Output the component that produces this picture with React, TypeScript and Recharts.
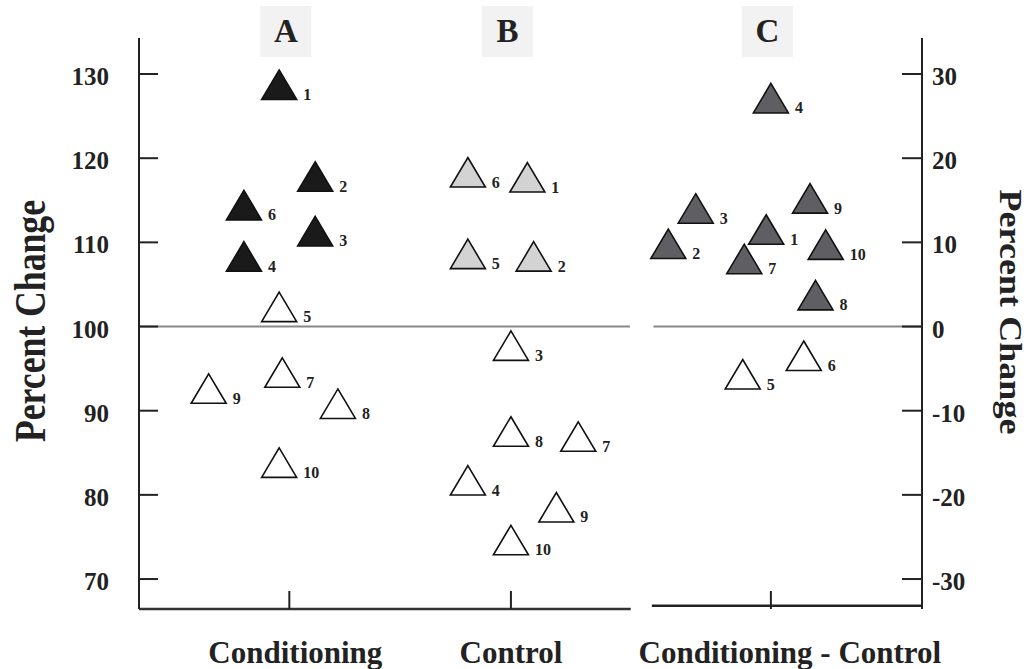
import React from 'react';
import {
  ScatterChart,
  Scatter,
  XAxis,
  YAxis,
  ReferenceLine,
  ReferenceDot,
} from 'recharts';

const panels = ['A', 'B', 'C'];
const categories = ['Conditioning', 'Control', 'Conditioning - Control'];
const categoryX = [19.2, 47.5, 80.7];

const leftTicks = [70, 80, 90, 100, 110, 120, 130];
const rightTicks = [-30, -20, -10, 0, 10, 20, 30];
const leftDomain: [number, number] = [66.44, 134.28];
const rightDomain: [number, number] = [-33.56, 34.28];

const subjects = [1, 2, 3, 4, 5, 6, 7, 8, 9, 10];

// A: conditioning (percent of baseline)
const conditioningX = [17.9, 22.5, 22.5, 13.4, 17.9, 13.4, 18.3, 25.4, 8.9, 17.9];
const conditioningY = [128.7, 117.8, 111.3, 108.3, 102.3, 114.4, 94.5, 90.8, 92.6, 83.8];
const conditioningFilled = [true, true, true, true, false, true, false, false, false, false];

// B: control (percent of baseline)
const controlX = [49.6, 50.4, 47.5, 42.0, 42.0, 42.0, 56.1, 47.5, 53.3, 47.5];
const controlY = [117.7, 108.3, 97.7, 81.7, 108.6, 118.3, 86.9, 87.5, 78.5, 74.6];
const controlFilled = [true, true, false, false, true, true, false, false, false, false];

// C: conditioning - control (percent change)
const diffX = [80.1, 67.6, 71.1, 80.7, 77.1, 84.9, 77.3, 86.4, 85.7, 87.7];
const diffY = [11.5, 9.8, 14.0, 27.1, -5.7, -3.5, 8.0, 3.7, 15.2, 9.7];
const diffFilled = [true, true, true, true, false, false, true, true, true, true];

const FONT = "'Liberation Serif', 'Times New Roman', serif";
const INK = '#222';

const toPoints = (xs: number[], ys: number[], filled: boolean[]) =>
  subjects.map((id, i) => ({ id, x: xs[i], y: ys[i], filled: filled[i] }));

const conditioningData = toPoints(conditioningX, conditioningY, conditioningFilled);
const controlData = toPoints(controlX, controlY, controlFilled);
const diffData = toPoints(diffX, diffY, diffFilled);

const triangle = (fill: string) => (props: any) => {
  const { cx, cy, payload } = props;
  if (cx == null || cy == null) return null;
  return (
    <g>
      <polygon
        points={`${cx},${cy - 15} ${cx + 17.5},${cy + 14.5} ${cx - 17.5},${cy + 14.5}`}
        fill={payload.filled ? fill : '#fff'}
        stroke="#111"
        strokeWidth={1.6}
      />
      <text x={cx + 24} y={cy + 15} fontSize={16} fontWeight="bold" fontFamily={FONT} fill={INK}>
        {payload.id}
      </text>
    </g>
  );
};

const LeftTick = (props: any) => {
  const { x, y, payload } = props;
  return (
    <g>
      <line x1={x} y1={y} x2={x + 19} y2={y} stroke={INK} strokeWidth={2} />
      <text x={x - 30} y={y + 11} textAnchor="end" fontSize={25} fontWeight="bold" fontFamily={FONT} fill={INK}>
        {payload.value}
      </text>
    </g>
  );
};

const RightTick = (props: any) => {
  const { x, y, payload } = props;
  return (
    <g>
      <line x1={x} y1={y} x2={x - 20} y2={y} stroke={INK} strokeWidth={2} />
      <text x={x + 10} y={y + 11} textAnchor="start" fontSize={25} fontWeight="bold" fontFamily={FONT} fill={INK}>
        {payload.value}
      </text>
    </g>
  );
};

// category titles sit a little right of their tick marks
const titleNudge = [6, 0, 19];

const CategoryTick = (props: any) => {
  const { x, y, payload } = props;
  const idx = categoryX.indexOf(payload.value);
  return (
    <text
      x={x + (titleNudge[idx] || 0)}
      y={y + 54}
      textAnchor="middle"
      fontSize={31}
      fontWeight="bold"
      fontFamily={FONT}
      fill={INK}
    >
      {categories[idx]}
    </text>
  );
};

const leftLabel = (props: any) => {
  const vb = props.viewBox;
  const x = vb.x + 45;
  const y = 321;
  return (
    <text
      x={x}
      y={y}
      transform={`rotate(-90, ${x}, ${y})`}
      textAnchor="middle"
      fontSize={44}
      textLength={242}
      lengthAdjust="spacingAndGlyphs"
      fontWeight="bold"
      fontFamily={FONT}
      fill={INK}
    >
      Percent Change
    </text>
  );
};

const rightLabel = (props: any) => {
  const vb = props.viewBox;
  const x = vb.x + 78;
  const y = 312;
  return (
    <text
      x={x}
      y={y}
      transform={`rotate(90, ${x}, ${y})`}
      textAnchor="middle"
      fontSize={32}
      textLength={245}
      lengthAdjust="spacingAndGlyphs"
      fontWeight="bold"
      fontFamily={FONT}
      fill={INK}
    >
      Percent Change
    </text>
  );
};

const panelBadge = (letter: string) => (props: any) => {
  const { cx, cy } = props;
  return (
    <g>
      <rect x={cx - 29} y={cy - 32} width={51} height={51} fill="#f2f2f2" />
      <text x={cx - 3.5} y={cy + 4} textAnchor="middle" fontSize={33} fontWeight="bold" fontFamily={FONT} fill={INK}>
        {letter}
      </text>
    </g>
  );
};

export default function App() {
  const bottom = leftDomain[0];
  return (
    <div style={{ position: 'absolute', left: 0, top: 0, width: 1031, height: 669, background: '#fff' }}>
      <ScatterChart width={1031} height={669} margin={{ top: 38, right: 0, bottom: 0, left: 0 }}>
        <XAxis
          xAxisId="x"
          type="number"
          dataKey="x"
          domain={[0, 100]}
          allowDataOverflow
          ticks={categoryX}
          interval={0}
          axisLine={false}
          tickLine={false}
          tickSize={0}
          tickMargin={0}
          height={60}
          tick={<CategoryTick />}
        />
        <YAxis
          yAxisId="left"
          type="number"
          dataKey="y"
          domain={leftDomain}
          allowDataOverflow
          ticks={leftTicks}
          interval={0}
          width={139}
          axisLine={{ stroke: INK, strokeWidth: 2 }}
          tickLine={false}
          tickSize={0}
          tickMargin={0}
          tick={<LeftTick />}
          label={{ content: leftLabel }}
        />
        <YAxis
          yAxisId="right"
          orientation="right"
          type="number"
          dataKey="y"
          domain={rightDomain}
          allowDataOverflow
          ticks={rightTicks}
          interval={0}
          width={109}
          axisLine={{ stroke: INK, strokeWidth: 2 }}
          tickLine={false}
          tickSize={0}
          tickMargin={0}
          tick={<RightTick />}
          label={{ content: rightLabel }}
        />

        {/* 100% baseline, broken between B and C */}
        <ReferenceLine xAxisId="x" yAxisId="left" segment={[{ x: 0, y: 100 }, { x: 62.7, y: 100 }]} stroke="#888" strokeWidth={2} />
        <ReferenceLine xAxisId="x" yAxisId="right" segment={[{ x: 65.7, y: 0 }, { x: 100, y: 0 }]} stroke="#888" strokeWidth={2} />

        {/* bottom axis, broken between B and C */}
        <ReferenceLine xAxisId="x" yAxisId="left" segment={[{ x: 0, y: bottom }, { x: 62.8, y: bottom }]} stroke="#333" strokeWidth={2.5} />
        <ReferenceLine xAxisId="x" yAxisId="left" segment={[{ x: 65.5, y: bottom + 0.4 }, { x: 100, y: bottom + 0.4 }]} stroke="#222" strokeWidth={2.5} />
        {categoryX.map((cx) => (
          <ReferenceLine
            key={cx}
            xAxisId="x"
            yAxisId="left"
            segment={[{ x: cx, y: bottom }, { x: cx, y: bottom + 2.14 }]}
            stroke={INK}
            strokeWidth={2}
          />
        ))}

        {panels.map((p, i) => (
          <ReferenceDot
            key={p}
            xAxisId="x"
            yAxisId="left"
            x={categoryX[i]}
            y={leftDomain[1]}
            ifOverflow="visible"
            shape={panelBadge(p)}
          />
        ))}

        <Scatter xAxisId="x" yAxisId="left" data={conditioningData} shape={triangle('#1a1a1a')} isAnimationActive={false} />
        <Scatter xAxisId="x" yAxisId="left" data={controlData} shape={triangle('#d3d3d3')} isAnimationActive={false} />
        <Scatter xAxisId="x" yAxisId="right" data={diffData} shape={triangle('#5f5f63')} isAnimationActive={false} />
      </ScatterChart>
    </div>
  );
}
